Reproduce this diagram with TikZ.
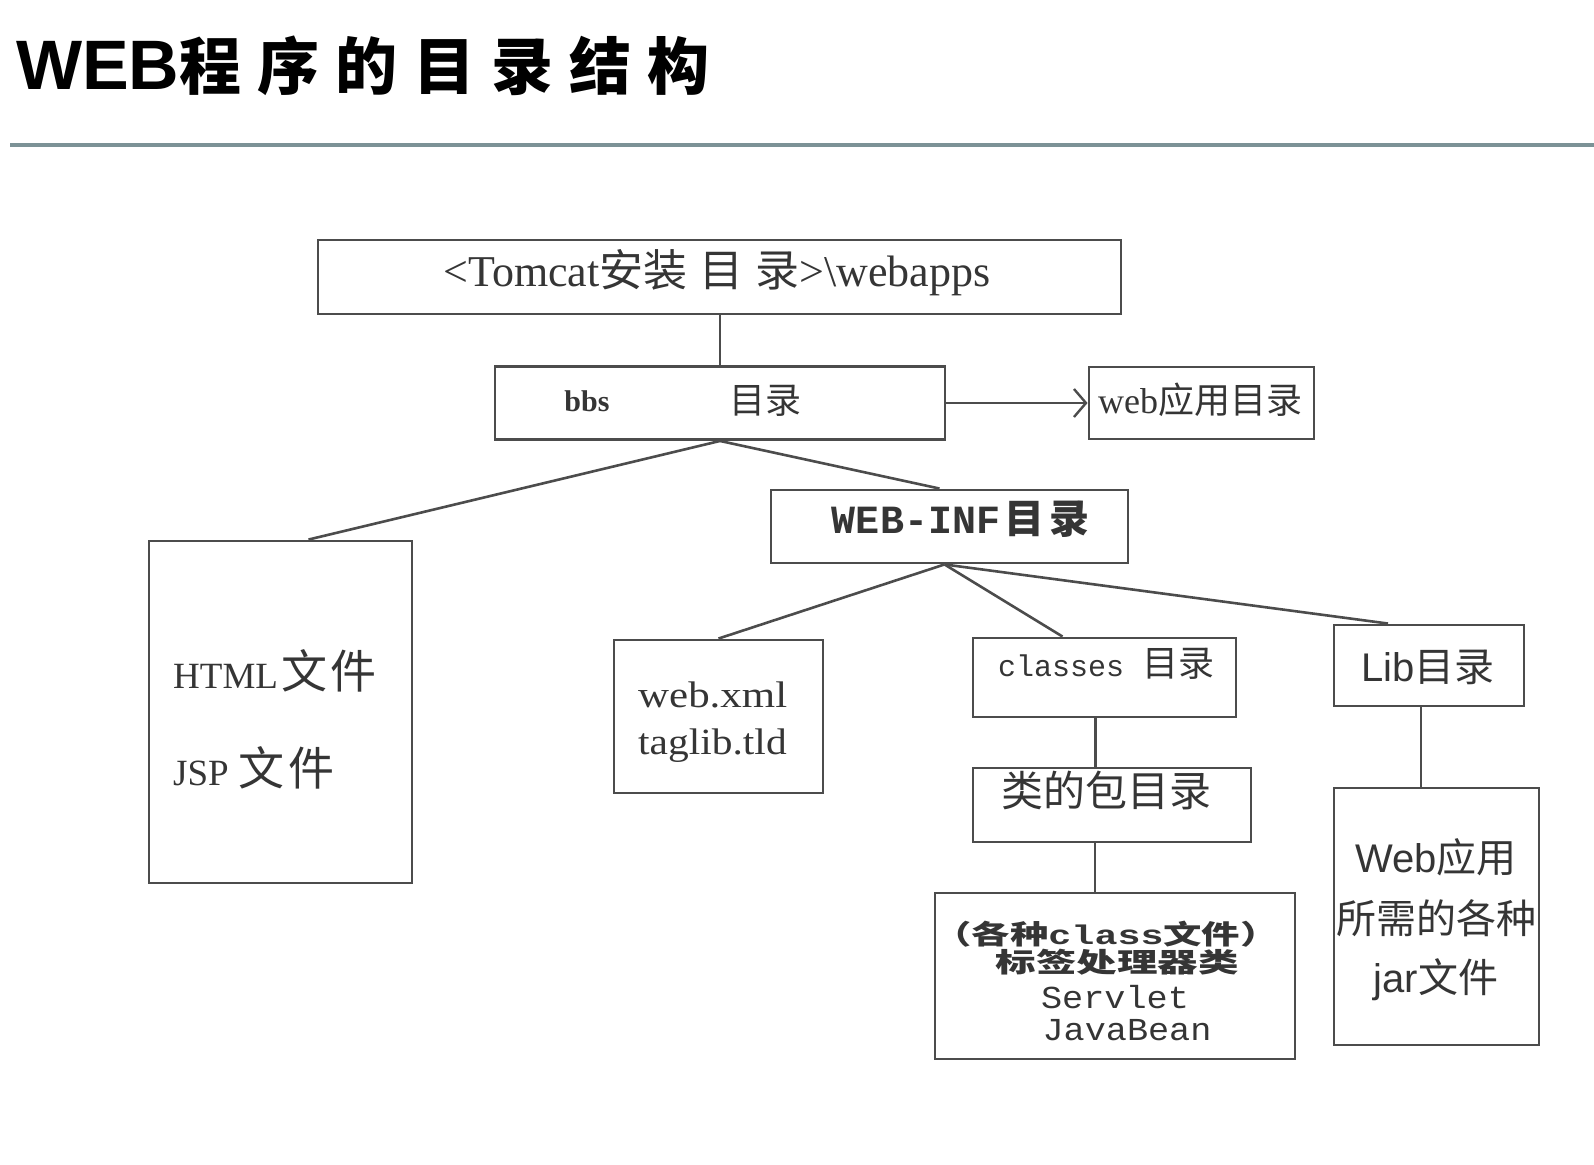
\documentclass[tikz,border=0pt]{standalone}
\usepackage{fontspec}
\setmainfont{Liberation Serif}
\setsansfont{Liberation Sans}
\setmonofont{Liberation Mono}
\newfontfamily\zhfont{Noto Sans CJK SC}
\newcommand{\zh}[1]{{\zhfont #1}}
\newcommand{\fsz}[1]{\fontsize{#1}{#1}\selectfont}
\usetikzlibrary{arrows.meta}
\definecolor{ink}{HTML}{353535}
\definecolor{edgec}{HTML}{4C4C4C}
\definecolor{rulec}{HTML}{7C9296}

\begin{document}
\begin{tikzpicture}[x=1pt,y=-1pt,
  box/.style={draw=edgec, line width=2.9pt, inner sep=0pt, fill=white},
  wire/.style={draw=edgec, line width=2.6pt},
  txt/.style={text=ink, inner sep=0pt, anchor=center}]
\fill[white] (0,0) rectangle (1594,1164);
\useasboundingbox (0,0) rectangle (1594,1164);

% heading and rule
\node[anchor=base west, inner sep=0pt] (title) at (16,89)
  {\fsz{70}\sffamily\bfseries WEB\zh{\fsz{62}\bfseries 程\hspace{16pt}序\hspace{16pt}的\hspace{16pt}目\hspace{16pt}录\hspace{16pt}结\hspace{16pt}构}};
\coordinate (ruleL) at (10,145);
\coordinate (ruleR) at (1594,145);
\draw[rulec, line width=4pt] (ruleL) -- (ruleR);

% directory boxes
\node[box, minimum width=803pt, minimum height=74pt] (top)     at (719.5,277) {};
\node[box, minimum width=450pt, minimum height=73pt] (bbs)     at (720,403) {};
\node[box, minimum width=225pt, minimum height=72pt] (webapp)  at (1201.5,403) {};
\node[box, minimum width=263pt, minimum height=342pt] (html)   at (280.5,712) {};
\node[box, minimum width=357pt, minimum height=73pt] (webinf)  at (949.5,526.5) {};
\node[box, minimum width=209pt, minimum height=153pt] (webxml) at (718.5,716.5) {};
\node[box, minimum width=263pt, minimum height=79pt] (classes) at (1104.5,677.5) {};
\node[box, minimum width=278pt, minimum height=74pt] (pkg)     at (1112,805) {};
\node[box, minimum width=360pt, minimum height=166pt] (clsfiles) at (1115,976) {};
\node[box, minimum width=190pt, minimum height=81pt] (lib)     at (1429,665.5) {};
\node[box, minimum width=205pt, minimum height=257pt] (jar)    at (1436.5,916.5) {};

% connectors
\draw[wire] (top.south -| bbs.north) -- (bbs.north);
\draw[wire, -{Straight Barb[length=12pt,width=28pt,line width=2.4pt]}] (bbs.east) -- (webapp.west);
\draw[wire] (bbs.south) -- ([xshift=28pt]html.north);
\draw[wire] (bbs.south) -- ([xshift=-10pt]webinf.north);
\draw[wire] ([xshift=-5pt]webinf.south) -- (webxml.north);
\draw[wire] ([xshift=-5pt]webinf.south) -- ([xshift=-42pt]classes.north);
\draw[wire] ([xshift=-5pt]webinf.south) -- ([xshift=-41pt]lib.north);
\draw[wire] ([xshift=-9pt]classes.south) -- ([xshift=-9pt]classes.south |- pkg.north);
\draw[wire] ([xshift=-17pt]pkg.south) -- ([xshift=-17pt]pkg.south |- clsfiles.north);
\draw[wire] ([xshift=-8pt]lib.south) -- ([xshift=-8pt]lib.south |- jar.north);

% box texts
\node[txt] (toptext) at (717,273)
  {\fsz{44}<Tomcat\zh{安装\hspace{12pt}目\hspace{12pt}录}>\textbackslash webapps};
\node[txt] (bbsname) at (587,401) {\fsz{30}\bfseries bbs};
\node[txt] (bbsdir)  at (765,401) {\fsz{36}\zh{目录}};
\node[txt] (webapptext) at (1200,400) {\fsz{36}web\zh{应用目录}};

\node[txt, anchor=west] (htmlline) at (173,671)
  {\fsz{37}HTML\hspace{3pt}\zh{\fsz{46}文\hspace{4pt}件}};
\node[txt, anchor=west] (jspline)  at (173,768)
  {\fsz{37}JSP\hspace{10pt}\zh{\fsz{46}文\hspace{4pt}件}};

\node[txt] (webinftext) at (961,519)
  {\fsz{40}\ttfamily\bfseries WEB-INF\hspace{4pt}\zh{\fsz{40}目\hspace{6pt}录}};

\node[txt, anchor=west] (webxmlline) at (638,695) {\scalebox{1.16}[1]{\fsz{37}web.xml}};
\node[txt, anchor=west] (tldline)    at (638,746) {\scalebox{1.12}[1]{\fsz{37}taglib.tld}};

\node[txt] (classestext) at (1106,664) {\fsz{30}\ttfamily classes \zh{\fsz{36}目录}};
\node[txt] (pkgtext)     at (1106,790) {\fsz{42}\zh{类的包目录}};

\node[txt] (clsline1) at (1106,934)
  {\scalebox{1.42}[1]{\fsz{27}\zh{\bfseries （各种}\ttfamily\bfseries class\zh{\bfseries 文件）}}};
\node[txt] (clsline2) at (1117,962) {\scalebox{1.5}[1]{\fsz{27}\zh{\bfseries 标签处理器类}}};
\node[txt] (clsline3) at (1115,997) {\scalebox{1.1}[1]{\fsz{32}\ttfamily Servlet}};
\node[txt] (clsline4) at (1127,1030) {\scalebox{1.1}[1]{\fsz{32}\ttfamily JavaBean}};

\node[txt] (libtext) at (1428,667) {\fsz{40}\sffamily Lib\zh{目录}};
\node[txt] (jarline1) at (1436,857) {\fsz{40}\sffamily Web\zh{应用}};
\node[txt] (jarline2) at (1436,918) {\fsz{40}\zh{所需的各种}};
\node[txt] (jarline3) at (1436,980) {\fsz{40}\sffamily jar\zh{文件}};
\end{tikzpicture}
\end{document}
